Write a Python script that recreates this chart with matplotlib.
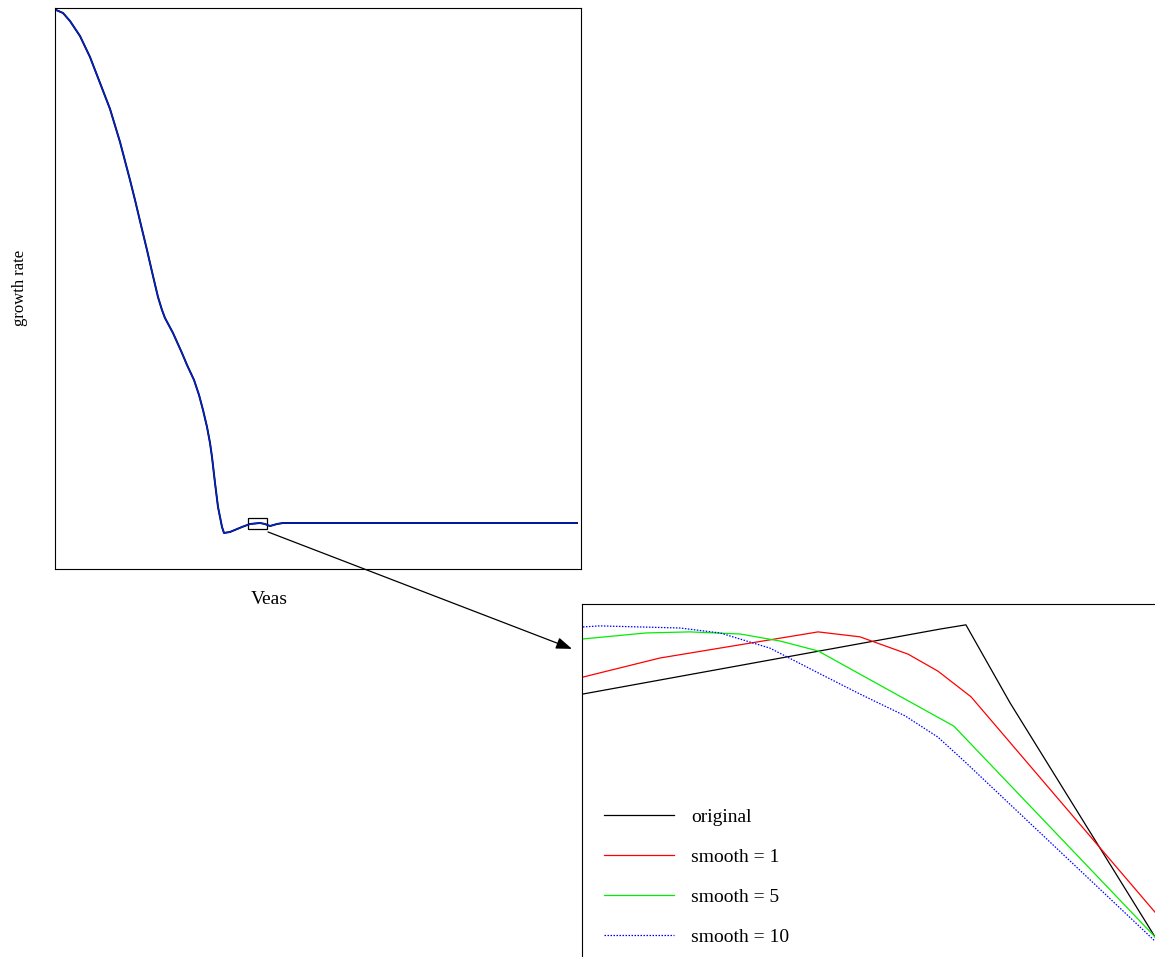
import matplotlib.pyplot as plt
from matplotlib.patches import Rectangle, ConnectionPatch

plt.rcParams['font.family'] = ['Liberation Serif', 'DejaVu Serif']

# main curve: growth rate vs Veas (arbitrary units, no ticks)
veas = [0.19, 1.52, 2.85, 4.75, 6.65, 8.56, 10.46, 12.36, 14.26, 15.21, 16.16,
        17.49, 18.63, 19.58, 20.34, 20.91, 22.43, 24.14, 25.10, 26.43, 27.38,
        28.14, 28.90, 29.47, 29.85, 30.42, 30.99, 31.75, 32.13, 33.27, 35.55,
        37.07, 38.97, 39.92, 40.87, 42.21, 43.35, 99.24]
growth = [99.65, 99.11, 97.68, 95.01, 91.27, 86.63, 82.00, 76.11, 69.34, 65.78,
          62.03, 56.86, 52.23, 48.48, 46.17, 44.74, 42.07, 38.50, 36.36, 33.69,
          31.02, 28.34, 25.31, 22.46, 19.96, 15.33, 11.05, 7.49, 6.42, 6.60,
          7.49, 8.02, 8.20, 8.02, 7.66, 8.02, 8.20, 8.20]

# zoom window shown in the inset
zoom_x = (36.7, 40.3)
zoom_y = (7.1, 9.1)

# inset series (zoomed coordinates)
orig_x = [0.17, 62.5, 67.0, 74.7, 100]
orig_y = [74.5, 92.9, 94.1, 72.0, 5.7]
s1_x = [0.17, 13.6, 41.2, 48.5, 56.9, 62.1, 67.9, 100]
s1_y = [79.3, 84.7, 92.1, 90.7, 85.8, 81.0, 73.7, 12.7]
s5_x = [0.17, 11.2, 18.8, 27.6, 34.6, 41.2, 64.9, 100]
s5_y = [90.1, 91.8, 92.1, 91.5, 89.5, 86.7, 65.4, 5.7]
s10_x = [0.17, 3.1, 10.1, 17.1, 24.1, 32.8, 41.2, 48.5, 56.4, 62.1, 66.5, 100]
s10_y = [93.5, 93.8, 93.5, 93.2, 91.8, 87.5, 80.5, 74.5, 68.3, 62.3, 55.8, 4.5]

W, H = 1155, 957
fig = plt.figure(figsize=(W / 100, H / 100), dpi=100)

ax = fig.add_axes([55 / W, 1 - 569 / H, 526 / W, 561 / H])
ax.plot(veas, growth, color='black', lw=1.4)
ax.plot(veas, growth, color='#0022dd', lw=1.0)
ax.set_xlim(0, 100)
ax.set_ylim(0, 100)
ax.set_xticks([])
ax.set_yticks([])
ax.add_patch(Rectangle((zoom_x[0], zoom_y[0]), zoom_x[1] - zoom_x[0],
                       zoom_y[1] - zoom_y[0], fill=False, ec='black', lw=0.9))

fig.text(20 / W, 1 - 288 / H, 'growth rate', rotation=90, ha='center', va='center', fontsize=12)
fig.text(269 / W, 1 - 600 / H, 'Veas', ha='center', va='center', fontsize=14)

axi = fig.add_axes([582 / W, 0, 573 / W, 353 / H])
axi.plot(orig_x, orig_y, color='black', lw=0.9, label='original')
axi.plot(s1_x, s1_y, color='red', lw=0.9, label='smooth = 1')
axi.plot(s5_x, s5_y, color='#00ee00', lw=0.9, label='smooth = 5')
axi.plot(s10_x, s10_y, color='blue', lw=0.9, ls=(0, (1.2, 1.2)), label='smooth = 10')
axi.set_xlim(0, 100)
axi.set_ylim(0, 100)
axi.set_xticks([])
axi.set_yticks([])
axi.spines['right'].set_visible(False)
axi.spines['bottom'].set_visible(False)
axi.legend(loc='upper left', bbox_to_anchor=(0.038, 0.422), frameon=False,
           fontsize=14, handlelength=3.6, handletextpad=0.9, labelspacing=1.16,
           borderpad=0, borderaxespad=0)

arrow = ConnectionPatch(xyA=(zoom_x[1] + 0.2, zoom_y[0] - 0.5), coordsA=ax.transData,
                        xyB=(-1.75, 87.3), coordsB=axi.transData,
                        arrowstyle='-|>,head_length=0.6,head_width=0.22',
                        mutation_scale=16, color='black', lw=0.9)
fig.add_artist(arrow)

fig.savefig('out.png', dpi=100)
